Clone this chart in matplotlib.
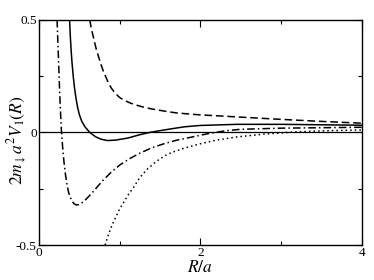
import numpy as np
import matplotlib
matplotlib.use("Agg")
import matplotlib.pyplot as plt
from matplotlib.ticker import MultipleLocator

# curves (R/a, 2 m a^2 V1)
solid_r = [0.38, 0.39, 0.40, 0.41, 0.425, 0.44, 0.46, 0.48, 0.50, 0.53, 0.57, 0.63,
           0.70, 0.77, 0.85, 0.95, 1.10, 1.25, 1.37, 1.50, 1.62, 1.80, 2.00, 2.45,
           3.00, 3.50, 4.00]
solid_v = [0.50, 0.42, 0.36, 0.31, 0.25, 0.20, 0.15, 0.11, 0.08, 0.05, 0.025, 0.0,
           -0.019, -0.030, -0.036, -0.034, -0.025, -0.010, 0.0, 0.008, 0.015, 0.025, 0.031, 0.036,
           0.036, 0.034, 0.032]

dashed_r = [0.63, 0.65, 0.67, 0.69, 0.71, 0.74, 0.77, 0.80, 0.83, 0.86, 0.90, 0.95,
            1.00, 1.06, 1.13, 1.20, 1.30, 1.40, 1.50, 1.60, 1.70, 1.85, 2.00, 2.25,
            2.50, 3.00, 3.50, 4.00]
dashed_v = [0.50, 0.46, 0.43, 0.40, 0.37, 0.335, 0.30, 0.27, 0.245, 0.22, 0.195, 0.172,
            0.155, 0.142, 0.131, 0.122, 0.112, 0.104, 0.098, 0.092, 0.087, 0.082, 0.078, 0.073,
            0.068, 0.058, 0.049, 0.041]

dashdot_r = [0.225, 0.235, 0.245, 0.255, 0.265, 0.28, 0.295, 0.31, 0.33, 0.35, 0.37, 0.40,
             0.43, 0.46, 0.49, 0.53, 0.58, 0.65, 0.72, 0.80, 0.90, 1.00, 1.12, 1.25,
             1.40, 1.55, 1.70, 1.90, 2.10, 2.30, 2.50, 3.00, 3.50, 4.00]
dashdot_v = [0.50, 0.40, 0.30, 0.20, 0.11, 0.0, -0.07, -0.13, -0.19, -0.235, -0.27, -0.298,
             -0.315, -0.322, -0.321, -0.313, -0.298, -0.272, -0.243, -0.21, -0.175, -0.145, -0.117, -0.092,
             -0.068, -0.05, -0.035, -0.02, -0.005, 0.007, 0.014, 0.019, 0.021, 0.023]

dotted_r = [0.82, 0.85, 0.88, 0.92, 0.96, 1.00, 1.05, 1.10, 1.17, 1.25, 1.35, 1.45,
            1.55, 1.65, 1.80, 2.00, 2.20, 2.45, 2.80, 3.20, 3.60, 4.00]
dotted_v = [-0.50, -0.465, -0.435, -0.40, -0.37, -0.34, -0.31, -0.28, -0.245, -0.20, -0.16, -0.13,
            -0.105, -0.088, -0.07, -0.05, -0.034, -0.02, -0.007, 0.003, 0.008, 0.011]

xticks = [0, 2, 4]
xtick_labels = ["0", "2", "4"]
yticks = [-0.5, 0, 0.5]
ytick_labels = ["-0.5", "0", "0.5"]

plt.rcParams["font.family"] = ["Liberation Serif", "DejaVu Serif"]
plt.rcParams["mathtext.fontset"] = "stix"

fig = plt.figure(figsize=(3.74, 2.80), dpi=100)
ax = fig.add_axes([0.104, 0.125, 0.864, 0.804])

lw = 1.1
ax.axhline(0, color="black", lw=0.9)
ax.plot(solid_r, solid_v, color="black", lw=lw)
ax.plot(dashed_r, dashed_v, color="black", lw=lw, dashes=(5, 2.5))
ax.plot(dashdot_r, dashdot_v, color="black", lw=lw, dashes=(5, 2, 1, 2))
ax.plot(dotted_r, dotted_v, color="black", lw=lw, dashes=(1, 2))

ax.set_xlim(0, 4)
ax.set_ylim(-0.5, 0.5)
ax.set_xticks(xticks)
ax.set_xticklabels(xtick_labels)
ax.set_yticks(yticks)
ax.set_yticklabels(ytick_labels)
ax.xaxis.set_minor_locator(MultipleLocator(1))
ax.yaxis.set_minor_locator(MultipleLocator(0.25))
ax.tick_params(which="both", direction="in", top=True, right=True, labelsize=9.5, pad=1.5)
ax.tick_params(which="major", length=5, width=0.8)
ax.tick_params(which="minor", length=3, width=0.8)
for s in ax.spines.values():
    s.set_linewidth(1.0)

ax.set_xlabel(r"$R/a$", fontsize=12.5, labelpad=0.5)
ax.set_ylabel(r"$2m_{\downarrow}a^2V_1(R)$", fontsize=12.5)
ax.yaxis.set_label_coords(-0.03, 0.465)

fig.savefig("out.png", dpi=100)
